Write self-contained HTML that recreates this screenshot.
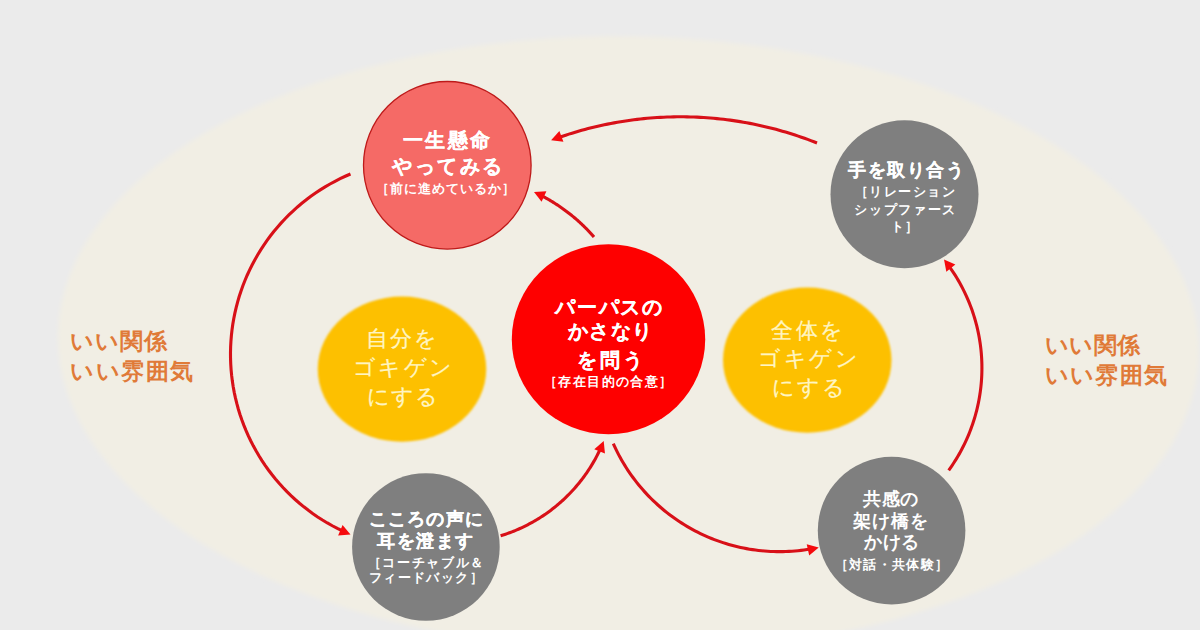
<!DOCTYPE html>
<html><head><meta charset="utf-8"><style>
html,body{margin:0;padding:0;width:1200px;height:630px;overflow:hidden;background:#EBEBEB}
svg{position:absolute;left:0;top:0}
.t{position:absolute;white-space:nowrap;font-family:"Liberation Sans",sans-serif;line-height:1}
</style></head><body>
<svg width="1200" height="630" viewBox="0 0 1200 630">
<defs><filter id="soft" x="-5%" y="-5%" width="110%" height="110%"><feGaussianBlur stdDeviation="2.0"/></filter><filter id="soft2" x="-10%" y="-10%" width="120%" height="120%"><feGaussianBlur stdDeviation="1.3"/></filter></defs>
<rect width="1200" height="630" fill="#EBEBEB"/>
<ellipse cx="628.4" cy="344.1" rx="570.6" ry="307.6" transform="rotate(0.96 628.4 344.1)" fill="#F1EEE4" filter="url(#soft)"/>
<ellipse cx="402" cy="369.1" rx="84.25" ry="72.6" fill="#FDC000" filter="url(#soft2)"/>
<ellipse cx="807.25" cy="360.1" rx="84.25" ry="72.6" fill="#FDC000" filter="url(#soft2)"/>
<circle cx="447.3" cy="165.3" r="83.8" fill="#F56A66" stroke="#BE1A1A" stroke-width="1.3"/>
<ellipse cx="608.5" cy="339.25" rx="96.7" ry="95" fill="#FE0000"/>
<circle cx="904.5" cy="194.25" r="74" fill="#7F7F7F"/>
<circle cx="891.6" cy="530.6" r="73.8" fill="#7F7F7F"/>
<circle cx="425.9" cy="547" r="73.8" fill="#7F7F7F"/>
<path d="M817.00 143.00 L813.90 141.78 L810.79 140.59 L807.66 139.42 L804.53 138.29 L801.39 137.18 L798.24 136.10 L795.07 135.05 L791.90 134.03 L788.72 133.04 L785.53 132.07 L782.33 131.14 L779.13 130.23 L775.91 129.35 L772.69 128.51 L769.46 127.69 L766.22 126.90 L762.98 126.14 L759.73 125.41 L756.47 124.70 L753.20 124.03 L749.93 123.39 L746.66 122.78 L743.38 122.19 L740.09 121.64 L736.80 121.12 L733.50 120.62 L730.21 120.16 L726.90 119.72 L723.59 119.32 L720.28 118.95 L716.97 118.60 L713.65 118.29 L710.33 118.00 L707.01 117.75 L703.68 117.52 L700.36 117.33 L697.03 117.17 L693.70 117.03 L690.37 116.93 L687.04 116.86 L683.70 116.81 L680.37 116.80 L677.04 116.82 L673.71 116.86 L670.38 116.94 L667.04 117.05 L663.72 117.18 L660.39 117.35 L657.06 117.55 L653.74 117.78 L650.41 118.03 L647.09 118.32 L643.78 118.64 L640.46 118.99 L637.15 119.37 L633.84 119.77 L630.54 120.21 L627.24 120.68 L623.95 121.18 L620.66 121.70 L617.37 122.26 L614.09 122.85 L610.82 123.46 L607.55 124.11 L604.28 124.78 L601.03 125.49 L597.78 126.22 L594.53 126.99 L591.30 127.78 L588.07 128.60 L584.84 129.45 L581.63 130.33 L578.42 131.24 L575.23 132.18 L572.04 133.15 L568.86 134.14 L565.69 135.17 L562.53 136.22 L559.37 137.31" fill="none" stroke="#D81018" stroke-width="3.1" stroke-linecap="butt"/>
<path d="M551.10 140.30 L559.38 131.05 L563.42 141.82 Z" fill="#F50A0D"/>
<path d="M594.00 237.00 L593.44 236.36 L592.89 235.73 L592.32 235.10 L591.76 234.47 L591.19 233.84 L590.62 233.22 L590.05 232.60 L589.47 231.98 L588.89 231.36 L588.31 230.75 L587.73 230.14 L587.14 229.53 L586.55 228.93 L585.95 228.33 L585.36 227.73 L584.76 227.13 L584.15 226.54 L583.55 225.95 L582.94 225.36 L582.33 224.78 L581.72 224.20 L581.10 223.62 L580.48 223.04 L579.86 222.47 L579.24 221.90 L578.61 221.34 L577.98 220.77 L577.35 220.21 L576.71 219.65 L576.07 219.10 L575.43 218.55 L574.79 218.00 L574.15 217.45 L573.50 216.91 L572.85 216.37 L572.19 215.84 L571.54 215.30 L570.88 214.77 L570.22 214.25 L569.55 213.72 L568.89 213.20 L568.22 212.68 L567.55 212.17 L566.88 211.66 L566.20 211.15 L565.52 210.65 L564.84 210.15 L564.16 209.65 L563.47 209.15 L562.79 208.66 L562.10 208.17 L561.41 207.69 L560.71 207.21 L560.01 206.73 L559.32 206.25 L558.61 205.78 L557.91 205.31 L557.20 204.85 L556.50 204.39 L555.79 203.93 L555.07 203.47 L554.36 203.02 L553.64 202.57 L552.92 202.13 L552.20 201.69 L551.48 201.25 L550.76 200.81 L550.03 200.38 L549.30 199.96 L548.57 199.53 L547.84 199.11 L547.10 198.69 L546.36 198.28 L545.62 197.87 L544.88 197.46 L544.14 197.06 L543.40 196.66 L542.65 196.26 L541.90 195.87" fill="none" stroke="#D81018" stroke-width="3.1" stroke-linecap="butt"/>
<path d="M534.00 192.00 L546.40 191.37 L541.59 201.82 Z" fill="#F50A0D"/>
<path d="M350.50 174.00 L345.27 176.27 L340.12 178.70 L335.03 181.28 L330.03 184.00 L325.10 186.87 L320.26 189.88 L315.51 193.03 L310.86 196.31 L306.30 199.73 L301.84 203.29 L297.49 206.97 L293.25 210.78 L289.12 214.70 L285.11 218.75 L281.22 222.91 L277.45 227.19 L273.81 231.57 L270.29 236.06 L266.91 240.65 L263.67 245.33 L260.56 250.11 L257.59 254.97 L254.77 259.92 L252.09 264.95 L249.56 270.06 L247.18 275.24 L244.95 280.48 L242.87 285.79 L240.95 291.16 L239.19 296.58 L237.59 302.05 L236.15 307.56 L234.87 313.11 L233.75 318.70 L232.79 324.32 L232.00 329.97 L231.38 335.63 L230.92 341.31 L230.62 347.00 L230.49 352.70 L230.53 358.40 L230.74 364.09 L231.11 369.78 L231.64 375.45 L232.34 381.11 L233.21 386.74 L234.24 392.35 L235.43 397.92 L236.79 403.46 L238.30 408.95 L239.98 414.40 L241.81 419.79 L243.80 425.14 L245.95 430.42 L248.24 435.63 L250.69 440.78 L253.29 445.85 L256.04 450.84 L258.93 455.76 L261.96 460.58 L265.13 465.32 L268.44 469.96 L271.88 474.50 L275.45 478.94 L279.15 483.27 L282.98 487.50 L286.93 491.61 L290.99 495.60 L295.17 499.48 L299.46 503.23 L303.86 506.85 L308.37 510.34 L312.97 513.70 L317.67 516.93 L322.46 520.01 L327.34 522.96 L332.30 525.76 L337.34 528.42 L342.46 530.92" fill="none" stroke="#D81018" stroke-width="3.1" stroke-linecap="butt"/>
<path d="M350.50 534.50 L338.13 535.56 L342.57 524.95 Z" fill="#F50A0D"/>
<path d="M500.60 535.80 L502.24 535.29 L503.88 534.76 L505.51 534.21 L507.14 533.65 L508.76 533.07 L510.37 532.47 L511.98 531.86 L513.58 531.23 L515.18 530.58 L516.76 529.91 L518.34 529.23 L519.92 528.53 L521.48 527.82 L523.04 527.08 L524.59 526.33 L526.13 525.57 L527.66 524.79 L529.19 523.99 L530.70 523.18 L532.21 522.35 L533.71 521.50 L535.20 520.64 L536.68 519.76 L538.15 518.87 L539.61 517.96 L541.06 517.03 L542.51 516.09 L543.94 515.14 L545.36 514.17 L546.77 513.18 L548.17 512.18 L549.56 511.17 L550.94 510.14 L552.31 509.09 L553.66 508.03 L555.01 506.96 L556.34 505.87 L557.67 504.77 L558.98 503.66 L560.28 502.53 L561.56 501.38 L562.84 500.23 L564.10 499.06 L565.35 497.87 L566.58 496.68 L567.81 495.47 L569.02 494.24 L570.22 493.01 L571.40 491.76 L572.57 490.50 L573.73 489.23 L574.88 487.94 L576.01 486.64 L577.12 485.34 L578.23 484.01 L579.32 482.68 L580.39 481.34 L581.45 479.98 L582.50 478.61 L583.53 477.24 L584.54 475.85 L585.55 474.45 L586.53 473.04 L587.50 471.62 L588.46 470.19 L589.40 468.75 L590.33 467.30 L591.24 465.84 L592.13 464.37 L593.01 462.89 L593.88 461.40 L594.73 459.90 L595.56 458.39 L596.37 456.88 L597.17 455.35 L597.96 453.82 L598.72 452.28 L599.47 450.73 L600.21 449.18" fill="none" stroke="#D81018" stroke-width="3.1" stroke-linecap="butt"/>
<path d="M603.70 441.10 L604.95 453.45 L594.27 449.17 Z" fill="#F50A0D"/>
<path d="M613.30 443.65 L614.56 446.42 L615.87 449.17 L617.22 451.89 L618.61 454.59 L620.06 457.27 L621.54 459.93 L623.07 462.56 L624.65 465.16 L626.26 467.73 L627.92 470.28 L629.63 472.80 L631.37 475.30 L633.16 477.76 L634.99 480.19 L636.85 482.59 L638.76 484.96 L640.71 487.30 L642.69 489.60 L644.72 491.88 L646.78 494.11 L648.88 496.31 L651.01 498.48 L653.18 500.61 L655.39 502.71 L657.63 504.76 L659.90 506.78 L662.21 508.76 L664.55 510.71 L666.93 512.61 L669.33 514.47 L671.77 516.29 L674.23 518.08 L676.73 519.82 L679.25 521.51 L681.80 523.17 L684.38 524.78 L686.99 526.35 L689.62 527.88 L692.28 529.36 L694.96 530.79 L697.66 532.19 L700.39 533.53 L703.14 534.83 L705.91 536.09 L708.71 537.30 L711.52 538.46 L714.35 539.57 L717.20 540.64 L720.06 541.66 L722.95 542.63 L725.84 543.55 L728.76 544.42 L731.69 545.25 L734.63 546.02 L737.58 546.75 L740.55 547.43 L743.52 548.05 L746.51 548.63 L749.51 549.16 L752.51 549.64 L755.52 550.06 L758.54 550.44 L761.57 550.77 L764.60 551.04 L767.63 551.27 L770.67 551.44 L773.71 551.56 L776.75 551.64 L779.79 551.66 L782.83 551.63 L785.87 551.55 L788.91 551.42 L791.95 551.24 L794.98 551.00 L798.01 550.72 L801.03 550.39 L804.05 550.00 L807.06 549.57 L810.06 549.08" fill="none" stroke="#D81018" stroke-width="3.1" stroke-linecap="butt"/>
<path d="M818.70 547.40 L809.19 555.38 L806.72 544.15 Z" fill="#F50A0D"/>
<path d="M948.70 470.30 L950.30 468.06 L951.87 465.79 L953.39 463.50 L954.89 461.18 L956.34 458.84 L957.76 456.48 L959.14 454.10 L960.49 451.69 L961.79 449.26 L963.06 446.82 L964.28 444.35 L965.47 441.86 L966.62 439.36 L967.73 436.84 L968.80 434.30 L969.83 431.74 L970.82 429.17 L971.76 426.58 L972.67 423.98 L973.54 421.36 L974.36 418.73 L975.14 416.09 L975.88 413.44 L976.58 410.77 L977.23 408.10 L977.85 405.41 L978.42 402.72 L978.95 400.01 L979.43 397.30 L979.87 394.58 L980.27 391.85 L980.63 389.12 L980.94 386.38 L981.21 383.64 L981.44 380.89 L981.62 378.15 L981.76 375.39 L981.85 372.64 L981.90 369.89 L981.91 367.13 L981.88 364.37 L981.80 361.62 L981.68 358.87 L981.51 356.12 L981.30 353.37 L981.05 350.63 L980.75 347.89 L980.41 345.15 L980.03 342.42 L979.60 339.70 L979.13 336.99 L978.62 334.28 L978.07 331.58 L977.47 328.89 L976.83 326.21 L976.15 323.54 L975.42 320.88 L974.66 318.24 L973.85 315.60 L973.00 312.98 L972.11 310.37 L971.18 307.78 L970.20 305.20 L969.19 302.64 L968.14 300.10 L967.04 297.57 L965.91 295.06 L964.74 292.56 L963.52 290.09 L962.27 287.63 L960.98 285.20 L959.65 282.79 L958.28 280.39 L956.88 278.02 L955.44 275.67 L953.96 273.35 L952.44 271.05 L950.89 268.77 L949.31 266.52" fill="none" stroke="#D81018" stroke-width="3.1" stroke-linecap="butt"/>
<path d="M944.00 259.50 L955.35 264.52 L946.35 271.69 Z" fill="#F50A0D"/>
</svg>
<div class="t" style="left:403.20px;top:130.60px;font-size:19.5px;font-weight:700;letter-spacing:2.27px;color:#FFFFFF;-webkit-text-stroke:0.20px #FFFFFF;">一生懸命</div>
<div class="t" style="left:392.40px;top:156.95px;font-size:19.5px;font-weight:700;letter-spacing:2.40px;color:#FFFFFF;-webkit-text-stroke:0.20px #FFFFFF;">やってみる</div>
<div class="t" style="left:376.00px;top:182.95px;font-size:12.5px;font-weight:700;letter-spacing:0.97px;color:#FFFFFF;">［前に進めているか］</div>
<div class="t" style="left:555.00px;top:297.50px;font-size:19.5px;font-weight:700;letter-spacing:1.75px;color:#FFFFFF;-webkit-text-stroke:0.20px #FFFFFF;">パーパスの</div>
<div class="t" style="left:568.00px;top:322.30px;font-size:19.5px;font-weight:700;letter-spacing:1.33px;color:#FFFFFF;-webkit-text-stroke:0.20px #FFFFFF;">かさなり</div>
<div class="t" style="left:576.60px;top:350.70px;font-size:19.5px;font-weight:700;letter-spacing:3.20px;color:#FFFFFF;-webkit-text-stroke:0.20px #FFFFFF;">を問う</div>
<div class="t" style="left:544.00px;top:375.60px;font-size:12.5px;font-weight:700;letter-spacing:1.38px;color:#FFFFFF;">［存在目的の合意］</div>
<div class="t" style="left:848.20px;top:161.35px;font-size:18px;font-weight:700;letter-spacing:1.56px;color:#FFFFFF;-webkit-text-stroke:0.20px #FFFFFF;">手を取り合う</div>
<div class="t" style="left:854.80px;top:185.60px;font-size:12.5px;font-weight:700;letter-spacing:1.53px;color:#FFFFFF;">［リレーション</div>
<div class="t" style="left:854.20px;top:203.75px;font-size:12.5px;font-weight:700;letter-spacing:1.67px;color:#FFFFFF;">シップファース</div>
<div class="t" style="left:890.60px;top:220.50px;font-size:12.5px;font-weight:700;letter-spacing:1.20px;color:#FFFFFF;">ト］</div>
<div class="t" style="left:862.80px;top:490.65px;font-size:17.5px;font-weight:700;letter-spacing:0.75px;color:#FFFFFF;">共感の</div>
<div class="t" style="left:852.50px;top:512.85px;font-size:17.5px;font-weight:700;letter-spacing:1.17px;color:#FFFFFF;">架け橋を</div>
<div class="t" style="left:864.40px;top:534.40px;font-size:17.5px;font-weight:700;letter-spacing:0.55px;color:#FFFFFF;">かける</div>
<div class="t" style="left:834.90px;top:558.50px;font-size:12.5px;font-weight:700;letter-spacing:1.27px;color:#FFFFFF;">［対話・共体験］</div>
<div class="t" style="left:368.60px;top:509.50px;font-size:18px;font-weight:700;letter-spacing:1.28px;color:#FFFFFF;-webkit-text-stroke:0.20px #FFFFFF;">こころの声に</div>
<div class="t" style="left:377.30px;top:531.60px;font-size:18px;font-weight:700;letter-spacing:1.42px;color:#FFFFFF;-webkit-text-stroke:0.20px #FFFFFF;">耳を澄ます</div>
<div class="t" style="left:367.80px;top:556.50px;font-size:12.5px;font-weight:700;letter-spacing:1.66px;color:#FFFFFF;">［コーチャブル＆</div>
<div class="t" style="left:368.80px;top:572.30px;font-size:12.5px;font-weight:700;letter-spacing:1.40px;color:#FFFFFF;">フィードバック］</div>
<div class="t" style="left:365.90px;top:328.25px;font-size:22px;font-weight:400;letter-spacing:1.90px;color:#FFF5C2;-webkit-text-stroke:0.25px #FFF5C2;">自分を</div>
<div class="t" style="left:353.00px;top:356.65px;font-size:22px;font-weight:400;letter-spacing:2.27px;color:#FFF5C2;-webkit-text-stroke:0.25px #FFF5C2;">ゴキゲン</div>
<div class="t" style="left:366.90px;top:386.20px;font-size:22px;font-weight:400;letter-spacing:1.30px;color:#FFF5C2;-webkit-text-stroke:0.25px #FFF5C2;">にする</div>
<div class="t" style="left:771.40px;top:319.65px;font-size:22px;font-weight:400;letter-spacing:2.55px;color:#FFF5C2;-webkit-text-stroke:0.25px #FFF5C2;">全体を</div>
<div class="t" style="left:758.10px;top:347.95px;font-size:22px;font-weight:400;letter-spacing:2.57px;color:#FFF5C2;-webkit-text-stroke:0.25px #FFF5C2;">ゴキゲン</div>
<div class="t" style="left:771.80px;top:377.10px;font-size:22px;font-weight:400;letter-spacing:2.25px;color:#FFF5C2;-webkit-text-stroke:0.25px #FFF5C2;">にする</div>
<div class="t" style="left:70.40px;top:330.50px;font-size:22.5px;font-weight:700;letter-spacing:0.83px;color:#E07A38;">いい関係</div>
<div class="t" style="left:70.40px;top:360.50px;font-size:22.5px;font-weight:700;letter-spacing:1.38px;color:#E07A38;">いい雰囲気</div>
<div class="t" style="left:1044.70px;top:334.85px;font-size:22.5px;font-weight:700;letter-spacing:0.43px;color:#E07A38;">いい関係</div>
<div class="t" style="left:1044.70px;top:364.85px;font-size:22.5px;font-weight:700;letter-spacing:1.32px;color:#E07A38;">いい雰囲気</div>
</body></html>
